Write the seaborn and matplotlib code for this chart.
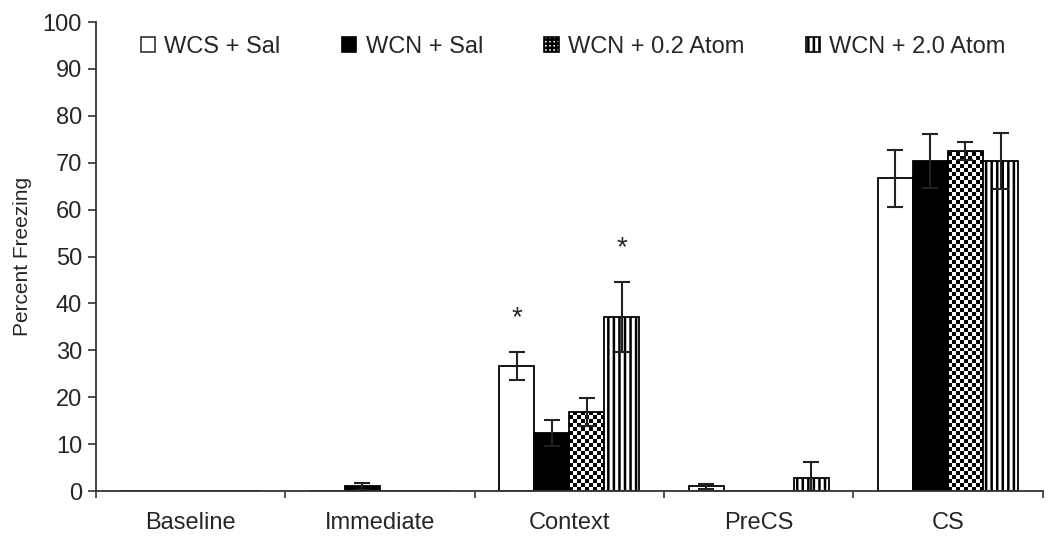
import numpy as np
import pandas as pd
import matplotlib
matplotlib.use("Agg")
import matplotlib.pyplot as plt
import seaborn as sns
from matplotlib.patches import Patch

phases = ["Baseline", "Immediate", "Context", "PreCS", "CS"]
groups = ["WCS + Sal", "WCN + Sal", "WCN + 0.2 Atom", "WCN + 2.0 Atom"]

# mean percent freezing per group, in phase order
wcs_sal = [0, 0, 26.6, 1.0, 66.7]
wcn_sal = [0, 1.0, 12.4, 0, 70.4]
wcn_02 = [0, 0, 16.8, 0, 72.5]
wcn_20 = [0, 0, 37.1, 2.8, 70.4]

# SEM
wcs_sal_err = [0, 0, 3.0, 0.5, 6.1]
wcn_sal_err = [0, 0.8, 2.7, 0, 5.7]
wcn_02_err = [0, 0, 3.0, 0, 2.0]
wcn_20_err = [0, 0, 7.5, 3.4, 6.0]

# significance stars (phase, group)
stars = [("Context", "WCS + Sal"), ("Context", "WCN + 2.0 Atom")]

means = [wcs_sal, wcn_sal, wcn_02, wcn_20]
errs = [wcs_sal_err, wcn_sal_err, wcn_02_err, wcn_20_err]

df = pd.DataFrame({
    "phase": np.tile(phases, len(groups)),
    "group": np.repeat(groups, len(phases)),
    "freezing": np.concatenate(means),
})

sns.set_style("white")
plt.rcParams["font.family"] = ["Liberation Sans", "DejaVu Sans"]
plt.rcParams["hatch.linewidth"] = 1.8

fig = plt.figure(figsize=(10.5, 5.39), dpi=100)
ax = fig.add_axes([0.0914, 0.089, 0.9016, 0.870])

sns.barplot(data=df, x="phase", y="freezing", hue="group", order=phases,
            hue_order=groups, palette=["white", "black", "white", "white"],
            edgecolor="black", linewidth=1.3, width=0.74, saturation=1,
            errorbar=None, legend=False, ax=ax)
bar_sets = list(ax.containers)

# stripes
for bar in bar_sets[3]:
    bar.set_hatch("|||")

# checkerboard fill for the 0.2 Atom group
for bar in bar_sets[2]:
    h = bar.get_height()
    if h <= 0:
        continue
    x0, w = bar.get_x(), bar.get_width()
    nx = 9
    cy = 0.85
    ny = int(np.ceil(h / cy))
    board = (np.add.outer(np.arange(ny), np.arange(nx)) % 2).astype(float)
    bar.set_facecolor("none")
    im = ax.imshow(board, cmap="gray", interpolation="nearest", aspect="auto",
                   extent=[x0, x0 + w, 0, ny * cy], origin="lower",
                   vmin=0, vmax=1, zorder=0.9)
    im.set_clip_path(bar)

# error bars
for i, bars in enumerate(bar_sets):
    xs = np.array([b.get_x() + b.get_width() / 2 for b in bars])
    m = np.array(means[i])
    e = np.array(errs[i])
    keep = e > 0
    ax.errorbar(xs[keep], m[keep], yerr=e[keep], fmt="none", ecolor="#222222",
                elinewidth=1.5, capsize=6, capthick=1.5, zorder=3)

# stars
for ph, g in stars:
    gi = groups.index(g)
    pi = phases.index(ph)
    b = bar_sets[gi][pi]
    top = means[gi][pi] + errs[gi][pi]
    ax.text(b.get_x() + b.get_width() / 2, top + 4.5, "*", ha="center",
            va="bottom", fontsize=20)

ax.set_xlim(-0.5, 4.5)
ax.set_ylim(0, 100)
ax.set_yticks(range(0, 101, 10))
ax.set_xlabel("")
ax.set_ylabel("Percent Freezing", fontsize=15, labelpad=8)
ax.tick_params(axis="y", labelsize=17, length=6, width=1.2, color="#333333",
               left=True, pad=4)
ax.tick_params(axis="x", which="major", labelsize=17, length=0, pad=15)
ax.set_xticks(np.arange(-0.5, 5, 1), minor=True)
ax.tick_params(axis="x", which="minor", bottom=True, length=5, width=1.2,
               color="#333333")
sns.despine(ax=ax)
for s in ["left", "bottom"]:
    ax.spines[s].set_color("#333333")
    ax.spines[s].set_linewidth(1.3)

handles = [
    Patch(facecolor="white", edgecolor="#333333", linewidth=1.2),
    Patch(facecolor="black", edgecolor="black", linewidth=1.2),
    Patch(facecolor="white", edgecolor="black", linewidth=1.2, hatch="++++"),
    Patch(facecolor="white", edgecolor="black", linewidth=1.2, hatch="|||"),
]
fig.legend(handles, groups, loc="center", bbox_to_anchor=(0.546, 0.913),
           ncol=4, frameon=False, fontsize=17, handlelength=0.6,
           handleheight=0.6, handletextpad=0.4, columnspacing=2.6)

fig.savefig("out.png", dpi=100)
